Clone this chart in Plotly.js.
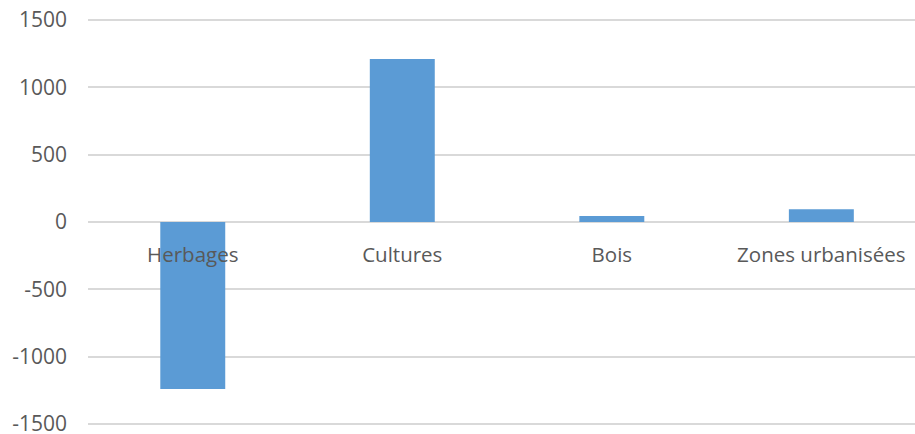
<!DOCTYPE html>
<html>
<head>
<meta charset="utf-8">
<script src="https://cdn.plot.ly/plotly-3.0.1.min.js"></script>
<style>html,body{margin:0;padding:0;background:#fff;}#chart{width:915px;height:434px;}</style>
</head>
<body>
<div id="chart"></div>
<script>
var categories = ["Herbages", "Cultures", "Bois", "Zones urbanisées"];
var values = [-1240, 1210, 45, 95];
var yTickValues = [-1500, -1000, -500, 0, 500, 1000, 1500];

var trace = {
  type: "bar",
  x: categories,
  y: values,
  marker: {color: "#5b9bd5", line: {width: 0}},
  hoverinfo: "x+y"
};

var layout = {
  width: 915,
  height: 434,
  margin: {l: 88, r: 0, t: 16, b: 6},
  paper_bgcolor: "#ffffff",
  plot_bgcolor: "#ffffff",
  showlegend: false,
  bargap: 0.69,
  font: {family: "Open Sans, sans-serif", size: 20, color: "#595959"},
  xaxis: {
    type: "category",
    range: [-0.5, 3.447],
    anchor: "free",
    position: 0.5,
    showgrid: false,
    showline: false,
    zeroline: false,
    ticks: "",
    ticklabelstandoff: 18,
    tickfont: {family: "Open Sans, sans-serif", size: 20.5, color: "#595959"}
  },
  yaxis: {
    range: [-1530, 1530],
    tickvals: yTickValues,
    ticktext: yTickValues.map(String),
    ticklabeloverflow: "allow",
    showgrid: true,
    gridcolor: "#d9d9d9",
    gridwidth: 2,
    zeroline: true,
    zerolinecolor: "#d9d9d9",
    zerolinewidth: 2,
    showline: false,
    ticks: "",
    ticklabelstandoff: 20,
    tickfont: {family: "Open Sans, sans-serif", size: 21, color: "#595959"}
  }
};

Plotly.newPlot("chart", [trace], layout, {displayModeBar: false, staticPlot: true});
</script>
</body>
</html>
